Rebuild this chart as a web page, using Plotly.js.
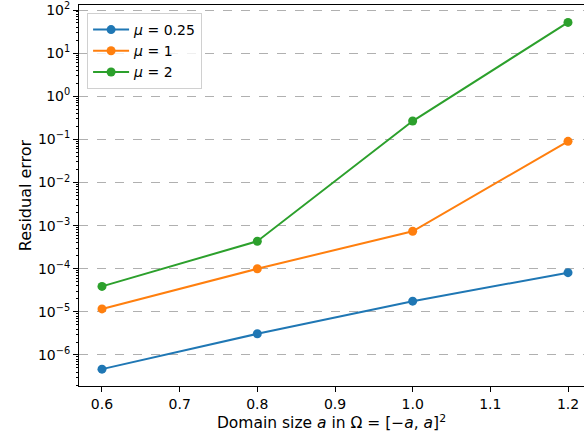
<!DOCTYPE html>
<html>
<head>
<meta charset="utf-8">
<script src="https://cdn.plot.ly/plotly-3.0.1.min.js"></script>
<style>html,body{margin:0;padding:0;background:#fff}#chart{width:584px;height:438px}</style>
</head>
<body>
<div id="chart"></div>
<script>
const domainSize = [0.6, 0.8, 1.0, 1.2];
const errMu025 = [4.7e-7, 3.1e-6, 1.77e-5, 8.1e-5];
const errMu1 = [1.17e-5, 1.0e-4, 7.4e-4, 0.09];
const errMu2 = [3.9e-5, 4.35e-4, 0.266, 51.5];
const seriesNames = ['<i>μ</i> = 0.25', '<i>μ</i> = 1', '<i>μ</i> = 2'];
const seriesColors = ['#1f77b4', '#ff7f0e', '#2ca02c'];
const xTickVals = [0.6, 0.7, 0.8, 0.9, 1.0, 1.1, 1.2];
const xTickText = ['0.6', '0.7', '0.8', '0.9', '1.0', '1.1', '1.2'];
const yTickVals = [1e-6, 1e-5, 1e-4, 1e-3, 1e-2, 1e-1, 1e0, 1e1, 1e2];
const yTickText = ['10<sup>−6</sup>', '10<sup>−5</sup>', '10<sup>−4</sup>', '10<sup>−3</sup>', '10<sup>−2</sup>', '10<sup>−1</sup>', '10<sup>0</sup>', '10<sup>1</sup>', '10<sup>2</sup>'];

const minorVals = [];
for (let e = -7; e <= 2; e++) {
  for (let m = 2; m <= 9; m++) minorVals.push(m * Math.pow(10, e));
}

const allSeries = [errMu025, errMu1, errMu2];
const traces = allSeries.map((ys, i) => ({
  x: domainSize, y: ys, type: 'scatter', mode: 'lines+markers',
  name: seriesNames[i],
  line: {color: seriesColors[i], width: 2},
  marker: {color: seriesColors[i], size: 9}
}));

const font = {family: 'DejaVu Sans', size: 14, color: '#000'};
const xTitleFont = {family: 'DejaVu Sans', size: 15.5, color: '#000'};
const yTitleFont = {family: 'DejaVu Sans', size: 16, color: '#000'};
const layout = {
  width: 584, height: 438,
  margin: {l: 79, r: 0, t: 5, b: 52},
  paper_bgcolor: '#fff', plot_bgcolor: '#fff',
  font: font,
  showlegend: true,
  legend: {x: 0.016, y: 0.979, xanchor: 'left', yanchor: 'top',
    bgcolor: 'rgba(255,255,255,0.8)', bordercolor: '#d0d0d0', borderwidth: 1,
    font: font, itemwidth: 36},
  xaxis: {
    range: [0.5704, 1.2206], tickvals: xTickVals, ticktext: xTickText,
    showgrid: false, zeroline: false, showline: true, linecolor: '#000', linewidth: 1,
    mirror: true, ticks: 'outside', ticklen: 5, tickwidth: 1, tickcolor: '#000',
    title: {text: 'Domain size <i>a</i> in Ω = [−<i>a</i>, <i>a</i>]<sup>2</sup>', font: xTitleFont, standoff: 3}
  },
  yaxis: {
    type: 'log', range: [-6.719, 2.116], tickvals: yTickVals, ticktext: yTickText,
    showgrid: true, gridcolor: '#b0b0b0', griddash: 'dash', gridwidth: 1,
    zeroline: false, showline: true, linecolor: '#000', linewidth: 1,
    ticks: 'outside', ticklen: 5, tickwidth: 1, tickcolor: '#000',
    minor: {tickvals: minorVals, ticks: 'outside', ticklen: 2.5, tickcolor: '#000', showgrid: false},
    title: {text: 'Residual error', font: yTitleFont, standoff: 2}
  }
};
Plotly.newPlot('chart', traces, layout, {displayModeBar: false, staticPlot: true});
</script>
</body>
</html>
